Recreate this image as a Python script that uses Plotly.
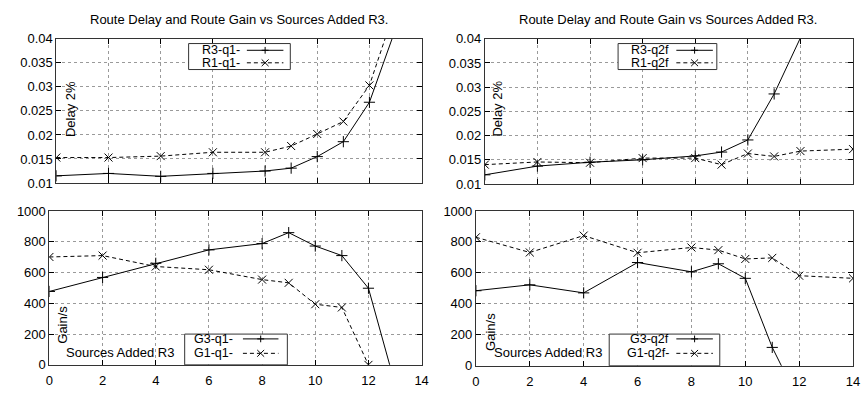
import plotly.graph_objects as go

W, H = 865, 395

# ---- data -------------------------------------------------------------
x_r3_q1 = [0, 2, 4, 6, 8, 9, 10, 11, 12, 13]
r3_q1 = [0.0115, 0.0120, 0.0114, 0.0120, 0.0125, 0.0131, 0.0155, 0.0186, 0.0268, 0.0420]
x_r1_q1 = [0, 2, 4, 6, 8, 9, 10, 11, 12, 13]
r1_q1 = [0.0153, 0.0153, 0.0156, 0.0164, 0.0164, 0.0177, 0.0202, 0.0228, 0.0303, 0.0465]

x_g3_q1 = [0, 2, 4, 6, 8, 9, 10, 11, 12, 13]
g3_q1 = [477, 568, 660, 747, 788, 859, 772, 710, 498, -125]
x_g1_q1 = [0, 2, 4, 6, 8, 9, 10, 11, 12]
g1_q1 = [701, 710, 639, 618, 554, 533, 394, 373, 0]

x_r3_q2f = [0, 2, 4, 6, 8, 9, 10, 11, 12]
r3_q2f = [0.0119, 0.0137, 0.0145, 0.0150, 0.0158, 0.0166, 0.0191, 0.0286, 0.0402]
x_r1_q2f = [0, 2, 4, 6, 8, 9, 10, 11, 12, 14]
r1_q2f = [0.0140, 0.01455, 0.0144, 0.01535, 0.01535, 0.0140, 0.0163, 0.0157, 0.0168, 0.0172]

x_g3_q2f = [0, 2, 4, 6, 8, 9, 10, 11, 12]
g3_q2f = [485, 523, 471, 667, 607, 659, 565, 119, -230]
x_g1_q2f = [0, 2, 4, 6, 8, 9, 10, 11, 12, 14]
g1_q2f = [830, 732, 841, 730, 764, 747, 690, 697, 582, 565]

x_ticks = [0, 2, 4, 6, 8, 10, 12, 14]
x_tick_labels = ["0", "2", "4", "6", "8", "10", "12", "14"]
delay_ticks = [0.01, 0.015, 0.02, 0.025, 0.03, 0.035, 0.04]
delay_tick_labels = ["0.01", "0.015", "0.02", "0.025", "0.03", "0.035", "0.04"]
gain_ticks = [0, 200, 400, 600, 800, 1000]
gain_tick_labels = ["0", "200", "400", "600", "800", "1000"]

title_text = "Route Delay and Route Gain vs Sources Added R3."

FONT = "Liberation Sans, Arial, sans-serif"
FS = 13
KEY_FS = 12.5
INK = "#000000"
BORDER = "#333333"
GRID = "#9a9a9a"
DASH = "4px,3px"


def px(x):
    return x / W


def py(y):
    return 1 - y / H


fig = go.Figure()


def add_series(x, y, xa, ya, solid, name):
    fig.add_trace(go.Scatter(
        x=x, y=y, xaxis=xa, yaxis=ya, name=name, showlegend=False,
        mode="lines+markers",
        line=dict(color=INK, width=1, dash=None if solid else DASH),
        marker=dict(symbol="cross-thin" if solid else "x-thin", size=8,
                    line=dict(color=INK, width=1)),
    ))


add_series(x_r3_q1, r3_q1, "x", "y", True, "R3-q1-")
add_series(x_r1_q1, r1_q1, "x", "y", False, "R1-q1-")
add_series(x_g3_q1, g3_q1, "x2", "y2", True, "G3-q1-")
add_series(x_g1_q1, g1_q1, "x2", "y2", False, "G1-q1-")
add_series(x_r3_q2f, r3_q2f, "x3", "y3", True, "R3-q2f")
add_series(x_r1_q2f, r1_q2f, "x3", "y3", False, "R1-q2f")
add_series(x_g3_q2f, g3_q2f, "x4", "y4", True, "G3-q2f")
add_series(x_g1_q2f, g1_q2f, "x4", "y4", False, "G1-q2f-")


def xaxis(domain, anchor, labels):
    return dict(
        domain=domain, anchor=anchor, range=[0, 14],
        tickmode="array", tickvals=x_ticks, ticktext=x_tick_labels,
        showticklabels=labels, ticks="inside", ticklen=5, tickcolor=INK,
        ticklabelstandoff=4,
        mirror="ticks", showline=True, linecolor=BORDER, linewidth=1,
        showgrid=True, gridcolor=GRID, griddash="dot", gridwidth=1,
        zeroline=False, tickfont=dict(family=FONT, size=FS, color=INK),
    )


def yaxis(domain, anchor, rng, vals, text):
    return dict(
        domain=domain, anchor=anchor, range=rng,
        tickmode="array", tickvals=vals, ticktext=text,
        ticks="inside", ticklen=5, tickcolor=INK,
        mirror="ticks", showline=True, linecolor=BORDER, linewidth=1,
        showgrid=True, gridcolor=GRID, griddash="dot", gridwidth=1,
        zeroline=False, tickfont=dict(family=FONT, size=FS, color=INK),
    )


fig.update_layout(
    xaxis=xaxis([px(53), px(423)], "y", False),
    yaxis=yaxis([py(183), py(33)], "x", [0.01, 0.04], delay_ticks, delay_tick_labels),
    xaxis2=xaxis([px(46), px(423)], "y2", True),
    yaxis2=yaxis([py(372), py(212)], "x2", [0, 1000], gain_ticks, gain_tick_labels),
    xaxis3=xaxis([px(487), px(860)], "y3", False),
    yaxis3=yaxis([py(184), py(33)], "x3", [0.01, 0.04], delay_ticks, delay_tick_labels),
    xaxis4=xaxis([px(478), px(860)], "y4", True),
    yaxis4=yaxis([py(373), py(212)], "x4", [0, 1000], gain_ticks, gain_tick_labels),
)

annotations = []
shapes = []


def text(x, y, s, angle=0, xanchor="center", size=FS):
    annotations.append(dict(
        x=px(x), y=py(y), xref="paper", yref="paper", text=s, showarrow=False,
        textangle=angle, xanchor=xanchor, yanchor="middle", borderpad=0,
        font=dict(family=FONT, size=size, color=INK),
    ))


# titles and axis captions
text(238, 13, title_text)
text(673, 13, title_text)
text(68, 106, "Delay 2%", angle=-90)
text(500, 106, "Delay 2%", angle=-90)
text(59, 330, "Gain/s", angle=-90)
text(492, 338, "Gain/s", angle=-90)
text(117, 359, "Sources Added R3")
text(551, 359, "Sources Added R3")


def seg(x0, y0, x1, y1, dash=None):
    shapes.append(dict(
        type="line", xref="paper", yref="paper",
        x0=px(x0), y0=py(y0), x1=px(x1), y1=py(y1),
        line=dict(color=INK, width=1, dash=dash),
    ))


def key_box(box, text_end, sample, rows, names):
    bx0, by0, bx1, by1 = box
    shapes.append(dict(
        type="rect", xref="paper", yref="paper",
        x0=px(bx0), y0=py(by0), x1=px(bx1), y1=py(by1),
        line=dict(color=BORDER, width=1), fillcolor="white", layer="above",
    ))
    s0, s1 = sample
    mid = (s0 + s1) / 2
    for i, (ry, nm) in enumerate(zip(rows, names)):
        text(text_end, ry, nm, xanchor="right", size=KEY_FS)
        solid = i == 0
        seg(s0, ry, s1, ry, None if solid else DASH)
        r = 3.5
        if solid:
            seg(mid - r, ry, mid + r, ry)
            seg(mid, ry - r, mid, ry + r)
        else:
            seg(mid - r, ry - r, mid + r, ry + r)
            seg(mid - r, ry + r, mid + r, ry - r)


key_box((187, 38, 290, 65), 240, (246, 283), (45, 58), ["R3-q1-", "R1-q1-"])
key_box((622, 38, 722, 65), 675, (681, 718), (45, 58), ["R3-q2f", "R1-q2f"])
key_box((183, 340, 287, 372), 233, (242, 278), (345, 360), ["G3-q1-", "G1-q1-"])
key_box((613, 340, 725, 373), 675, (681, 718), (345, 360), ["G3-q2f", "G1-q2f-"])

fig.update_layout(
    width=W, height=H, margin=dict(l=0, r=0, t=0, b=0),
    paper_bgcolor="white", plot_bgcolor="white",
    annotations=annotations, shapes=shapes, showlegend=False,
    font=dict(family=FONT, size=FS, color=INK),
)

fig.write_html("out.html")
